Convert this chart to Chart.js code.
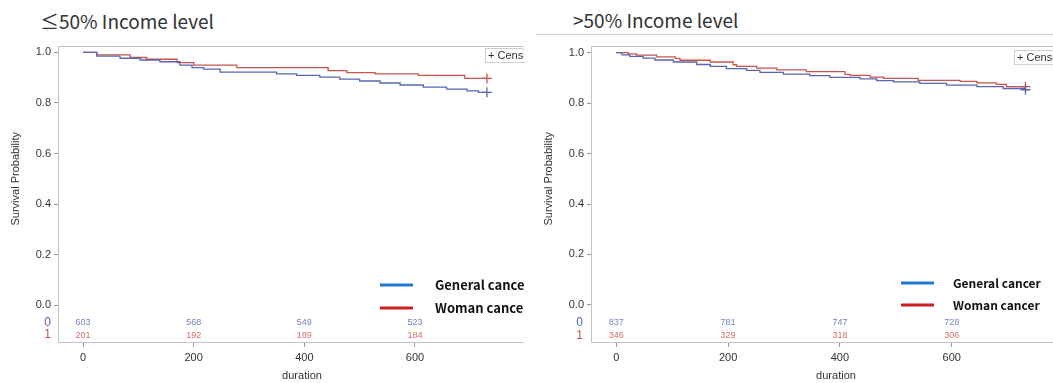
<!DOCTYPE html>
<html>
<head>
<meta charset="utf-8">
<script src="https://cdn.jsdelivr.net/npm/chart.js@4"></script>
<style>
  html, body { margin: 0; padding: 0; background: #fff; }
  body { width: 1053px; height: 383px; position: relative; overflow: hidden; }
  .panel-title { position: absolute; font-family: "Noto Sans CJK KR", "Noto Sans", sans-serif; font-size: 19px; color: #333; white-space: nowrap; line-height: 1; }
  .box { position: absolute; overflow: hidden; }
  .rule { position: absolute; left: 536px; top: 34px; width: 517px; height: 1px; background: #cfcfcf; }
</style>
</head>
<body>
<div class="panel-title" style="left:40px; top:11px;">≤50% Income level</div>
<div class="panel-title" style="left:573px; top:10px;">&gt;50% Income level</div>
<div class="rule"></div>
<div class="box" style="left:0; top:36px; width:524px; height:347px;"><canvas id="lowIncome" width="560" height="347"></canvas></div>
<div class="box" style="left:530px; top:36px; width:523px; height:347px;"><canvas id="highIncome" width="570" height="347"></canvas></div>
<script>
// Kaplan–Meier step curves, two income groups, two cancer groups
const yTicks = [0, 0.2, 0.4, 0.6, 0.8, 1.0];
const xTicks = [0, 200, 400, 600];
const riskTimes = [0, 200, 400, 600];
const groupLabels = ['General cancer', 'Woman cancer'];

// ≤50% income level
const lowGeneralTime = [0, 25, 67, 103, 139, 175, 197, 218, 248, 350, 386, 428, 464, 500, 537, 573, 615, 657, 694, 715, 730];
const lowGeneralSurv = [1.0, 0.985, 0.977, 0.970, 0.963, 0.950, 0.940, 0.934, 0.922, 0.915, 0.909, 0.902, 0.894, 0.887, 0.879, 0.871, 0.863, 0.855, 0.848, 0.842, 0.842];
const lowWomanTime = [0, 25, 85, 115, 170, 200, 278, 443, 477, 528, 606, 690, 730];
const lowWomanSurv = [1.0, 0.990, 0.980, 0.973, 0.960, 0.950, 0.940, 0.928, 0.920, 0.915, 0.909, 0.897, 0.897];
const lowRiskGeneral = [603, 568, 549, 523];
const lowRiskWoman = [201, 192, 189, 184];

// >50% income level
const highGeneralTime = [0, 10, 24, 48, 69, 102, 144, 168, 197, 233, 257, 299, 346, 382, 436, 466, 496, 543, 591, 645, 692, 732];
const highGeneralSurv = [1.0, 0.991, 0.985, 0.978, 0.971, 0.963, 0.953, 0.946, 0.937, 0.930, 0.922, 0.915, 0.909, 0.902, 0.896, 0.889, 0.884, 0.878, 0.871, 0.865, 0.858, 0.853];
const highWomanTime = [0, 21, 36, 72, 105, 114, 168, 209, 215, 251, 287, 340, 409, 418, 454, 478, 540, 615, 645, 680, 698, 732];
const highWomanSurv = [1.0, 0.995, 0.990, 0.983, 0.977, 0.970, 0.963, 0.952, 0.946, 0.939, 0.932, 0.925, 0.914, 0.910, 0.903, 0.898, 0.890, 0.886, 0.880, 0.874, 0.865, 0.865];
const highRiskGeneral = [837, 781, 747, 728];
const highRiskWoman = [346, 329, 318, 306];

const curveBlue = 'rgb(88,102,180)';
const curveRed = 'rgb(200,86,76)';
const keyBlue = '#1f78d1';
const keyRed = '#cc1f1f';
const riskBlue = '#7383c4';
const riskRed = '#cf6e66';
const sansFont = '"Liberation Sans", Arial, sans-serif';
const boldFont = '"Noto Sans CJK KR", "Noto Sans", sans-serif';

function toPoints(times, surv) {
  return times.map((t, i) => ({ x: t, y: surv[i] }));
}
function censorRadius(times) {
  return times.map((_, i) => (i === times.length - 1 ? 5 : 0));
}

// grey frame around the plotting region
const framePlugin = {
  id: 'frame',
  beforeDatasetsDraw(chart) {
    const { ctx, chartArea: a } = chart;
    ctx.save();
    ctx.strokeStyle = '#c4c4c4';
    ctx.lineWidth = 1;
    ctx.strokeRect(Math.round(a.left) - 0.5, Math.round(a.top) + 0.5, Math.round(a.right - a.left), Math.round(a.bottom - a.top));
    ctx.restore();
  }
};

// axis caption, number-at-risk rows, key and censor box
const extrasPlugin = {
  id: 'extras',
  afterDraw(chart, args, opts) {
    const { ctx } = chart;
    const xs = chart.scales.x, ys = chart.scales.y;
    ctx.save();
    // vertical caption, centred on the 0–1 range
    ctx.save();
    ctx.translate(opts.captionX, (ys.getPixelForValue(0) + ys.getPixelForValue(1)) / 2);
    ctx.rotate(-Math.PI / 2);
    ctx.font = '11px ' + sansFont;
    ctx.fillStyle = '#333';
    ctx.textAlign = 'center';
    ctx.textBaseline = 'middle';
    ctx.fillText('Survival Probability', 0, 0);
    ctx.restore();
    // row labels
    ctx.font = '12px ' + sansFont;
    ctx.textAlign = 'right';
    ctx.textBaseline = 'middle';
    const row0 = ys.getPixelForValue(opts.row0);
    const row1 = ys.getPixelForValue(opts.row1);
    ctx.fillStyle = '#4f66b3';
    ctx.fillText('0', opts.rowLabelX, row0);
    ctx.fillStyle = '#c0504d';
    ctx.fillText('1', opts.rowLabelX, row1);
    // counts
    ctx.font = '9px ' + sansFont;
    ctx.textAlign = 'center';
    riskTimes.forEach((t, i) => {
      const px = xs.getPixelForValue(t);
      ctx.fillStyle = riskBlue;
      ctx.fillText(String(opts.riskGeneral[i]), px, row0);
      ctx.fillStyle = riskRed;
      ctx.fillText(String(opts.riskWoman[i]), px, row1);
    });
    // key
    ctx.lineWidth = 3;
    ctx.textAlign = 'left';
    ctx.font = 'bold ' + opts.keyFont + 'px ' + boldFont;
    [[keyBlue, opts.keyY0, groupLabels[0]], [keyRed, opts.keyY1, groupLabels[1]]].forEach(([c, y, label]) => {
      ctx.strokeStyle = c;
      ctx.beginPath();
      ctx.moveTo(opts.keyX, y);
      ctx.lineTo(opts.keyX + 33, y);
      ctx.stroke();
      ctx.fillStyle = '#111';
      ctx.fillText(label, opts.keyTextX, y);
    });
    // censor box
    ctx.lineWidth = 1;
    ctx.strokeStyle = '#d0d0d0';
    ctx.fillStyle = '#fff';
    ctx.fillRect(opts.censX + 0.5, opts.censY + 0.5, 80, 14);
    ctx.strokeRect(opts.censX + 0.5, opts.censY + 0.5, 80, 14);
    ctx.fillStyle = '#333';
    ctx.font = '11px ' + sansFont;
    ctx.fillText('+ Censored', opts.censX + 3, opts.censY + 8);
    ctx.restore();
  }
};

function makeChart(id, spec) {
  const datasets = [
    { label: groupLabels[0], data: toPoints(spec.gTime, spec.gSurv), borderColor: curveBlue, pointBorderColor: curveBlue, pointRadius: censorRadius(spec.gTime) },
    { label: groupLabels[1], data: toPoints(spec.wTime, spec.wSurv), borderColor: curveRed, pointBorderColor: curveRed, pointRadius: censorRadius(spec.wTime) }
  ].map(d => Object.assign(d, { stepped: 'before', borderWidth: 1.3, pointStyle: 'cross', pointBorderWidth: 1.3, pointHoverRadius: 0, fill: false, tension: 0 }));

  return new Chart(document.getElementById(id), {
    type: 'line',
    data: { datasets },
    plugins: [framePlugin, extrasPlugin],
    options: {
      responsive: false,
      animation: false,
      events: [],
      layout: { padding: { left: 0, top: spec.top, right: spec.right, bottom: 0 } },
      plugins: {
        legend: { display: false },
        tooltip: { enabled: false },
        extras: spec.extras
      },
      scales: {
        x: {
          type: 'linear',
          min: spec.xMin, max: spec.xMax,
          afterBuildTicks: s => { s.ticks = xTicks.map(v => ({ value: v })); },
          afterFit: s => { s.height = 347 - 306; },
          grid: { drawOnChartArea: false, drawTicks: true, tickLength: 5, tickColor: '#999' },
          border: { display: false },
          ticks: { padding: 4, color: '#333', font: { size: 11, family: sansFont }, maxRotation: 0 },
          title: { display: true, text: 'duration', color: '#333', font: { size: 11, family: sansFont }, padding: { top: 0, bottom: 0 } }
        },
        y: {
          type: 'linear',
          min: spec.yMin, max: spec.yMax,
          afterBuildTicks: s => { s.ticks = yTicks.map(v => ({ value: v })); },
          afterFit: s => { s.width = spec.axisW; },
          grid: { drawOnChartArea: false, drawTicks: true, tickLength: 5, tickColor: '#999' },
          border: { display: false },
          ticks: { padding: 3, color: '#333', font: { size: 11, family: sansFont }, callback: v => Number(v).toFixed(1) },
          title: { display: false }
        }
      }
    }
  });
}

makeChart('lowIncome', {
  gTime: lowGeneralTime, gSurv: lowGeneralSurv, wTime: lowWomanTime, wSurv: lowWomanSurv,
  top: 6, right: 15, axisW: 59,
  xMin: -43.4, xMax: 835, yMin: -0.146, yMax: 1.027,
  extras: { riskGeneral: lowRiskGeneral, riskWoman: lowRiskWoman, row0: -0.068, row1: -0.119, rowLabelX: 51, captionX: 16,
            keyX: 380, keyTextX: 435, keyY0: 249, keyY1: 272, keyFont: 13, censX: 485, censY: 12 }
});

makeChart('highIncome', {
  gTime: highGeneralTime, gSurv: highGeneralSurv, wTime: highWomanTime, wSurv: highWomanSurv,
  top: 8, right: 20, axisW: 62,
  xMin: -43.5, xMax: 829.5, yMin: -0.147, yMax: 1.028,
  extras: { riskGeneral: highRiskGeneral, riskWoman: highRiskWoman, row0: -0.07, row1: -0.123, rowLabelX: 53, captionX: 19,
            keyX: 371, keyTextX: 423, keyY0: 247, keyY1: 269, keyFont: 12, censX: 484, censY: 14 }
});
</script>
</body>
</html>
